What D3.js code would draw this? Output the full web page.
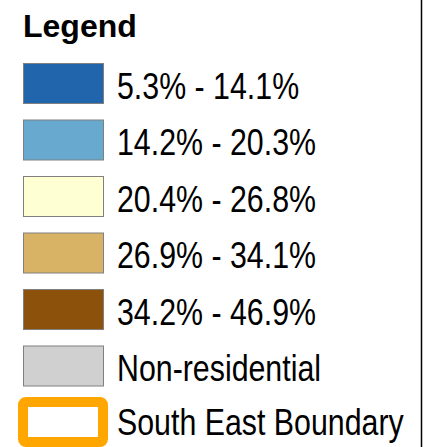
<!DOCTYPE html>
<html>
<head>
<meta charset="utf-8">
<script src="https://cdn.jsdelivr.net/npm/d3@7"></script>
<style>
  html, body { margin: 0; padding: 0; background: #fff; }
  svg { display: block; }
</style>
</head>
<body>
<div id="legend"></div>
<script>
// legend classes (labels + fill colours)
const classLabels = ['5.3% - 14.1%', '14.2% - 20.3%', '20.4% - 26.8%', '26.9% - 34.1%', '34.2% - 46.9%', 'Non-residential'];
const classColors = ['#2166ac', '#67a9cf', '#ffffd4', '#d9b365', '#8c510a', '#d0d0d0'];
const boundaryLabel = 'South East Boundary';
const boundaryColor = '#ffa600';

const width = 427;
const height = 447;
// no Arial Narrow here, so squeeze Liberation Sans horizontally
const narrow = 0.82;

const svg = d3.select('#legend')
  .append('svg')
  .attr('width', width)
  .attr('height', height);

svg.append('text')
  .attr('x', 23)
  .attr('y', 37)
  .style('font-family', '"Liberation Sans", Arial, sans-serif')
  .style('font-weight', 'bold')
  .style('font-size', '32px')
  .text('Legend');

const rows = classLabels.concat([boundaryLabel]);
const y = d3.scalePoint()
  .domain(rows)
  .range([63, 63 + 56.5 * 6]);

const item = svg.selectAll('.item')
  .data(classLabels)
  .enter()
  .append('g')
  .attr('class', 'item')
  .attr('transform', d => `translate(0, ${y(d)})`);

item.append('rect')
  .attr('x', 23.5)
  .attr('y', 0.5)
  .attr('width', 80)
  .attr('height', 40)
  .attr('fill', (_, i) => classColors[i])
  .attr('stroke', '#808080')
  .attr('stroke-width', 1);

item.append('text')
  .attr('transform', `translate(117, 35.5) scale(${narrow}, 1)`)
  .style('font-family', '"Liberation Sans", Arial, sans-serif')
  .style('font-size', '37px')
  .text(d => d);

// boundary swatch
const b = svg.append('g').attr('transform', `translate(0, ${y(boundaryLabel)})`);
b.append('rect')
  .attr('x', 23)
  .attr('y', 0)
  .attr('width', 80)
  .attr('height', 40)
  .attr('rx', 3)
  .attr('fill', '#fff')
  .attr('stroke', boundaryColor)
  .attr('stroke-width', 10);
b.append('text')
  .attr('transform', `translate(117, 33) scale(${narrow}, 1)`)
  .style('font-family', '"Liberation Sans", Arial, sans-serif')
  .style('font-size', '37px')
  .text(boundaryLabel);

// frame edge on the right
svg.append('line')
  .attr('x1', 421.5).attr('x2', 421.5)
  .attr('y1', 0).attr('y2', height)
  .attr('stroke', '#000')
  .attr('stroke-width', 1.5);
</script>
</body>
</html>
